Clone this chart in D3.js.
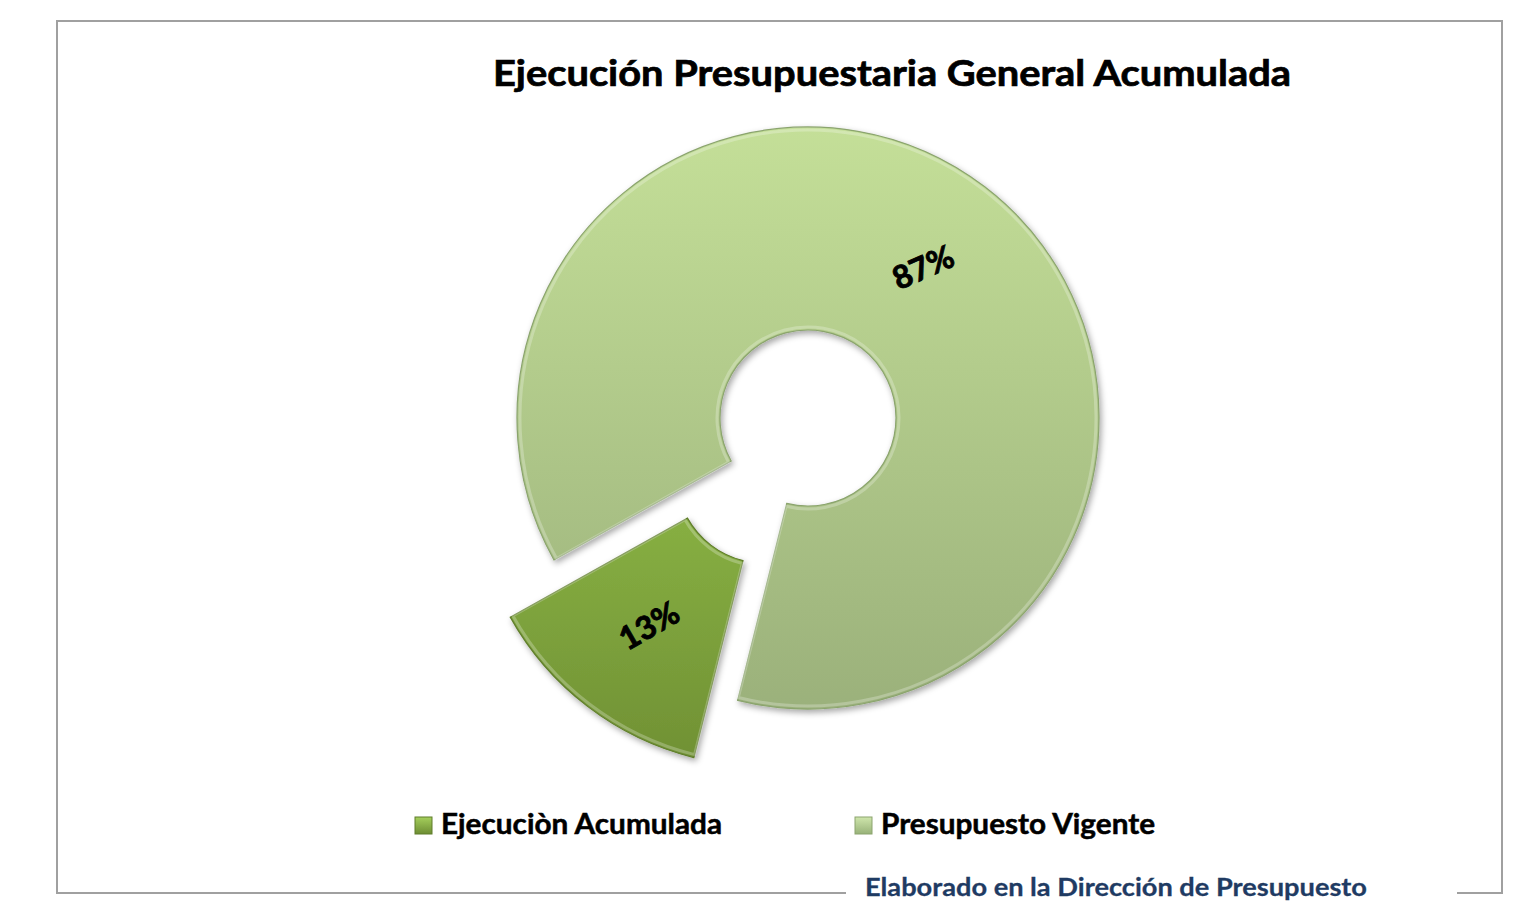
<!DOCTYPE html>
<html><head><meta charset="utf-8">
<script src="https://cdn.jsdelivr.net/npm/d3@7"></script>
<style>html,body{margin:0;padding:0;background:#fff;}svg{display:block;}</style>
</head><body>
<svg id="c" width="1514" height="904"></svg>
<script>
const title = "Ejecución Presupuestaria General Acumulada";
const categories = ["Ejecuciòn Acumulada", "Presupuesto Vigente"];
const values = [13, 87];
const labels = ["13%", "87%"];
const footer = "Elaborado en la Dirección de Presupuesto";

const svg = d3.select("#c");
const font = "Lato, 'Open Sans', sans-serif";
const cx = 808, cy = 418, rOuter = 291, rInner = 88;
const startDeg = 194;
const explode = [72, 0];
const labelRot = [-30, -24];

const defs = svg.append("defs");
function grad(id, c1, c2, y1, y2, bbox){
  const g = defs.append("linearGradient").attr("id", id)
    .attr("x1",0).attr("x2",0).attr("y1",y1).attr("y2",y2);
  if (!bbox) g.attr("gradientUnits","userSpaceOnUse");
  g.append("stop").attr("offset","0%").attr("stop-color",c1);
  g.append("stop").attr("offset","100%").attr("stop-color",c2);
}
grad("g0", "#95c24b", "#6b8a31", -110, 340);
grad("g1", "#c4df98", "#9bb17b", -rOuter, rOuter);
grad("leg0", "#a5cf5c", "#6d8d33", 0, 1, true);
grad("leg1", "#cfe6ac", "#98b279", 0, 1, true);
const f = defs.append("filter").attr("id","sh").attr("x","-20%").attr("y","-20%").attr("width","140%").attr("height","140%");
f.append("feDropShadow").attr("dx",2).attr("dy",3).attr("stdDeviation",3).attr("flood-color","#000").attr("flood-opacity",0.35);

// border
svg.append("rect").attr("x",57).attr("y",21).attr("width",1445).attr("height",872)
  .attr("fill","none").attr("stroke","#a0a0a0").attr("stroke-width",2);

svg.append("text").attr("x",892).attr("y",86).attr("text-anchor","middle")
  .attr("font-family",font).attr("font-weight","bold").attr("font-size",36).attr("fill","#000")
  .attr("stroke","#000").attr("stroke-width",0.7)
  .attr("textLength",798).attr("lengthAdjust","spacingAndGlyphs").text(title);

const pie = d3.pie().sort(null).value(d=>d)
  .startAngle(startDeg*Math.PI/180).endAngle(startDeg*Math.PI/180 + 2*Math.PI);
const arcs = pie(values);
const arc = d3.arc().innerRadius(rInner).outerRadius(rOuter);
const arcMid = d3.arc().innerRadius((rInner+rOuter)/2).outerRadius((rInner+rOuter)/2);

const g = svg.append("g");
arcs.forEach((a,i)=>{
  const mid = (a.startAngle + a.endAngle)/2;
  const ox = explode[i]*Math.sin(mid), oy = -explode[i]*Math.cos(mid);
  const sg = g.append("g").attr("transform",`translate(${cx+ox},${cy+oy})`);
  sg.append("path").attr("d",arc(a)).attr("fill",`url(#g${i})`)
    .attr("stroke", i===0 ? "#5f7d2b" : "#8ba46e").attr("stroke-width",1.2)
    .attr("filter","url(#sh)");
  sg.append("path").attr("d",d3.arc().innerRadius(rInner+3).outerRadius(rOuter-3)(a))
    .attr("fill","none").attr("stroke","rgba(255,255,255,0.25)").attr("stroke-width",3);
  const c = arcMid.centroid(a);
  sg.append("text").attr("transform",`translate(${c[0]},${c[1]}) rotate(${labelRot[i]})`)
    .attr("text-anchor","middle").attr("dy","0.35em")
    .attr("font-family",font).attr("font-weight","bold").attr("font-size",32).attr("fill","#000")
    .attr("stroke","#000").attr("stroke-width",0.9)
    .text(labels[i]);
});

// legend
const legX = [415, 855], legTW = [281, 274];
categories.forEach((c,i)=>{
  svg.append("rect").attr("x",legX[i]).attr("y",817).attr("width",17).attr("height",17)
    .attr("fill",`url(#leg${i})`).attr("stroke", i===0?"#5f7d2b":"#8ba46e").attr("stroke-width",1);
  svg.append("text").attr("x",legX[i]+26).attr("y",834)
    .attr("font-family",font).attr("font-weight","bold").attr("font-size",28).attr("fill","#000")
    .attr("stroke","#000").attr("stroke-width",0.5)
    .attr("textLength",legTW[i]).attr("lengthAdjust","spacingAndGlyphs").text(c);
});

// footer
svg.append("rect").attr("x",846).attr("y",884).attr("width",611).attr("height",20).attr("fill","#fff");
svg.append("text").attr("x",865).attr("y",896)
  .attr("font-family",font).attr("font-weight","bold").attr("font-size",25).attr("fill","#1f3b63")
  .attr("stroke","#1f3b63").attr("stroke-width",0.3)
  .attr("textLength",502).attr("lengthAdjust","spacingAndGlyphs").text(footer);
</script>
</body></html>
